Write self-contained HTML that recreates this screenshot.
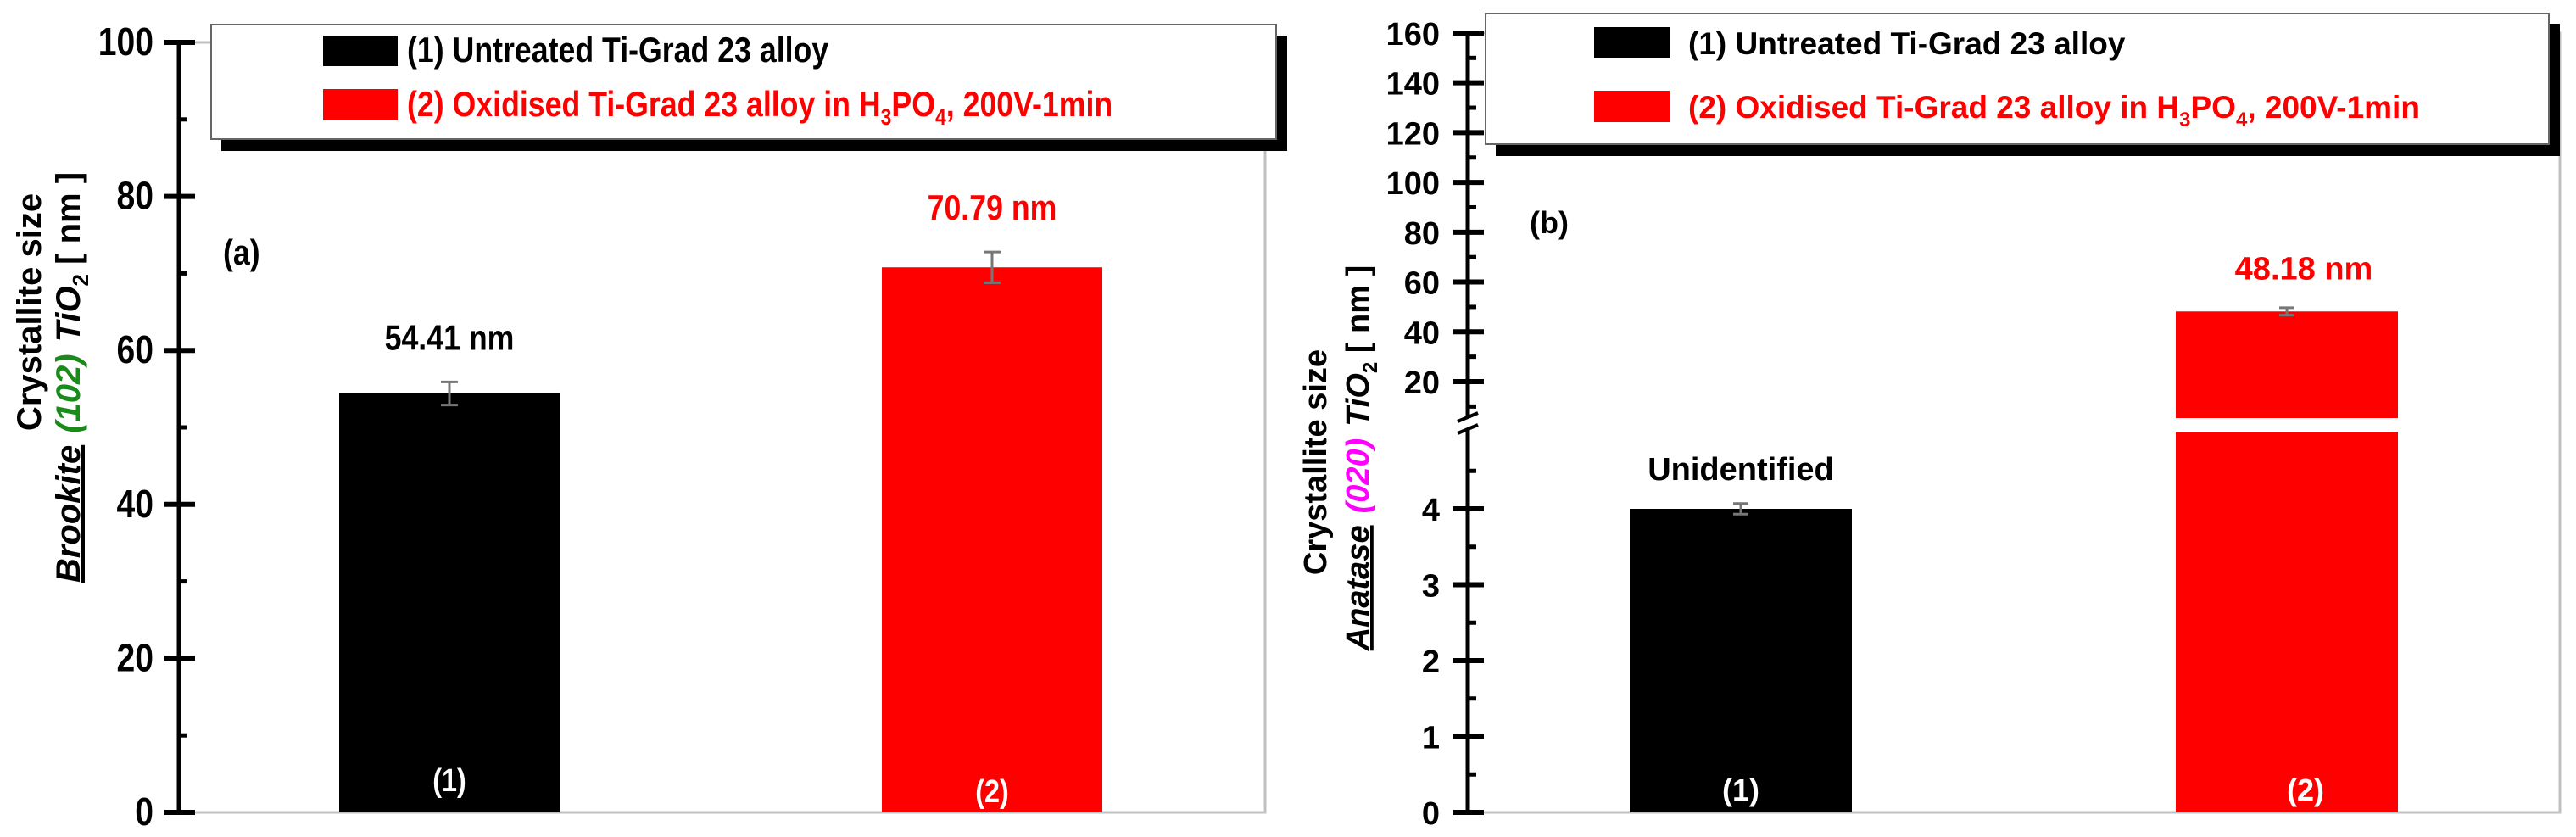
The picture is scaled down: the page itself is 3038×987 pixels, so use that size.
<!DOCTYPE html>
<html><head><meta charset="utf-8"><style>
html,body{margin:0;padding:0;background:#fff;}
svg{display:block;}
.n{font-family:"Liberation Sans Narrow","Liberation Sans",sans-serif;font-weight:bold;}
.w{font-family:"Liberation Sans",sans-serif;font-weight:bold;}
</style></head><body>
<svg id="fig" width="3038" height="987" viewBox="0 0 3038 987" xmlns="http://www.w3.org/2000/svg">
<rect x="0" y="0" width="3038" height="987" fill="#fff"/>
<g id="pa"></g>
<g id="pb"></g>
</svg>
<script>
const NS="http://www.w3.org/2000/svg";
// Panel (a) data
const catsA=["(1)","(2)"];
const valsA=[54.41,70.79];
const errA=[1.5,2.0];
const labelsA=["54.41 nm","70.79 nm"];
const ticksA=[0,20,40,60,80,100];
// Panel (b) data
const catsB=["(1)","(2)"];
const valsB=[4.0,48.18];
const errB=[0.07,1.5];
const labelsB=["Unidentified","48.18 nm"];
const ticksBLow=[0,1,2,3,4];
const ticksBHigh=[20,40,60,80,100,120,140,160];
const colors=["#000000","#ff0000"];
const SX=0.85;

function el(tag,attrs,parent,txt){const e=document.createElementNS(NS,tag);for(const k in attrs)e.setAttribute(k,attrs[k]);if(txt!==undefined)e.textContent=txt;parent.appendChild(e);return e;}
function ntext(x,y,attrs,parent,txt){const a=Object.assign({x:0,y:0,transform:`translate(${x},${y}) scale(${SX},1)`},attrs);return el('text',a,parent,txt);}

// ---------- Panel A ----------
const pa=document.getElementById('pa');
const A={x0:211,y0:958,y100:50,xr:1492};
const ya=v=>A.y0-(v/100)*(A.y0-A.y100);
const xa=i=>[530,1170][i];
const bwA=260;
let f=el('polyline',{points:`${A.x0},${A.y100} ${A.xr},${A.y100} ${A.xr},${A.y0} ${A.x0},${A.y0}`,fill:'none',stroke:'#c0c0c0','stroke-width':3},pa);

valsA.forEach((v,i)=>{
 const r=el('rect',{x:xa(i)-bwA/2,y:ya(v),width:bwA,height:A.y0-ya(v),fill:colors[i]},pa);
 
 const e=el('path',{d:`M${xa(i)},${ya(v+errA[i])}V${ya(v-errA[i])}M${xa(i)-10},${ya(v+errA[i])}h20M${xa(i)-10},${ya(v-errA[i])}h20`,stroke:'#777','stroke-width':3,fill:'none'},pa);
 
 const t=ntext(xa(i),ya(v+errA[i])-38,{'text-anchor':'middle','font-size':42,fill:colors[i],class:'n'},pa,labelsA[i]);
 
 const c=ntext(xa(i),[933,946][i],{'text-anchor':'middle','font-size':38,fill:'#fff',class:'n'},pa,catsA[i]);
 
});
let ax=el('line',{x1:A.x0,y1:A.y100-2,x2:A.x0,y2:A.y0+2,stroke:'#000','stroke-width':5},pa);

ticksA.forEach(t=>{
 const l=el('line',{x1:A.x0-17,y1:ya(t),x2:A.x0+19,y2:ya(t),stroke:'#000','stroke-width':6},pa);
 
 const tx=ntext(181,ya(t)+15,{'text-anchor':'end','font-size':46,fill:'#000',class:'n'},pa,String(t));
 
 if(t<100){const m=el('line',{x1:A.x0,y1:ya(t+10),x2:A.x0+9,y2:ya(t+10),stroke:'#000','stroke-width':5},pa);
 }
});
el('rect',{x:261,y:42,width:1257,height:136,fill:'#000'},pa);
el('rect',{x:249,y:29,width:1256,height:135,fill:'#fff',stroke:'#666','stroke-width':2},pa);
el('rect',{x:381,y:42,width:88,height:36,fill:'#000'},pa);
el('rect',{x:381,y:105,width:88,height:37,fill:'#ff0000'},pa);
let lt=ntext(480,73,{'font-size':42,fill:'#000',class:'n'},pa,"(1) Untreated Ti-Grad 23 alloy");

lt=ntext(480,137,{'font-size':42,fill:'#ff0000',class:'n'},pa);
lt.innerHTML='(2) Oxidised Ti-Grad 23 alloy in H<tspan font-size="27" dy="10">3</tspan><tspan dy="-10">PO</tspan><tspan font-size="27" dy="10">4</tspan><tspan dy="-10">, 200V-1min</tspan>';

let pl=ntext(263,312,{'font-size':42,fill:'#000',class:'n'},pa,"(a)");

let yt=el('text',{x:0,y:0,transform:'translate(48,368) rotate(-90)','text-anchor':'middle','font-size':40,fill:'#000',class:'w'},pa,"Crystallite size");

yt=el('text',{x:0,y:0,transform:'translate(94,445) rotate(-90)','text-anchor':'middle','font-size':40,fill:'#000',class:'w'},pa);
yt.innerHTML='<tspan font-style="italic" text-decoration="underline">Brookite</tspan><tspan fill="#1a8a1a" font-style="italic" dx="14">(102)</tspan><tspan font-style="italic" dx="14">TiO</tspan><tspan font-size="26" dy="10">2</tspan><tspan dy="-10"> [ nm ]</tspan>';


// ---------- Panel B ----------
const pb=document.getElementById('pb');
const B={x0:1731,y0:958,xr:3019,top:39};
const yLow=v=>B.y0-v*89.5;
const yHigh=v=>450-(v-20)*2.936;
const yb=v=>v<=5?yLow(v):yHigh(v);
const xb=i=>[2053,2697][i];
const bwB=262;
let fb=el('polyline',{points:`${B.x0},${B.top} ${B.xr},${B.top} ${B.xr},${B.y0} ${B.x0},${B.y0}`,fill:'none',stroke:'#c0c0c0','stroke-width':3},pb);

valsB.forEach((v,i)=>{
 const top=yb(v);
 const r=el('rect',{x:xb(i)-bwB/2,y:top,width:bwB,height:B.y0-top,fill:colors[i]},pb);
 
 if(v>5){const g=el('rect',{x:xb(i)-bwB/2-2,y:493,width:bwB+4,height:16,fill:'#fff'},pb);
 }
 const e=el('path',{d:`M${xb(i)},${yb(v+errB[i])}V${yb(v-errB[i])}M${xb(i)-9},${yb(v+errB[i])}h18M${xb(i)-9},${yb(v-errB[i])}h18`,stroke:'#777','stroke-width':3,fill:'none'},pb);
 
 const t=el('text',{x:xb(i)+(i?20:0),y:top-(i?38:34),'text-anchor':'middle','font-size':38,fill:colors[i],class:'w'},pb,labelsB[i]);
 
 const c=el('text',{x:xb(i)+(i?22:0),y:944,'text-anchor':'middle','font-size':36,fill:'#fff',class:'w'},pb,catsB[i]);
 
});
let axb=el('path',{d:`M${B.x0},${B.y0+2}V505M${B.x0},493V${B.top-2}`,stroke:'#000','stroke-width':5,fill:'none'},pb);

let brk=el('path',{d:`M${B.x0-12},497l24,-10M${B.x0-12},511l24,-10`,stroke:'#000','stroke-width':4},pb);

ticksBLow.forEach(t=>{
 const l=el('line',{x1:B.x0-17,y1:yLow(t),x2:B.x0+19,y2:yLow(t),stroke:'#000','stroke-width':6},pb);
 
 const tx=el('text',{x:1698,y:yLow(t)+14,'text-anchor':'end','font-size':38,fill:'#000',class:'w'},pb,String(t));
 
 const m=el('line',{x1:B.x0,y1:yLow(t+0.5),x2:B.x0+10,y2:yLow(t+0.5),stroke:'#000','stroke-width':5},pb);
 
});
ticksBHigh.forEach(t=>{
 const l=el('line',{x1:B.x0-17,y1:yHigh(t),x2:B.x0+19,y2:yHigh(t),stroke:'#000','stroke-width':6},pb);
 
 const tx=el('text',{x:1698,y:yHigh(t)+14,'text-anchor':'end','font-size':38,fill:'#000',class:'w'},pb,String(t));
 
 const m=el('line',{x1:B.x0,y1:yHigh(t-10),x2:B.x0+10,y2:yHigh(t-10),stroke:'#000','stroke-width':5},pb);
 
});
el('rect',{x:1764,y:28,width:1255,height:156,fill:'#000'},pb);
el('rect',{x:1752,y:16,width:1254,height:154,fill:'#fff',stroke:'#666','stroke-width':2},pb);
el('rect',{x:1880,y:32,width:89,height:36,fill:'#000'},pb);
el('rect',{x:1880,y:107,width:89,height:37,fill:'#ff0000'},pb);
lt=el('text',{x:1991,y:64,'font-size':37,fill:'#000',class:'w'},pb,"(1) Untreated Ti-Grad 23 alloy");

lt=el('text',{x:1991,y:139,'font-size':37,fill:'#ff0000',class:'w'},pb);
lt.innerHTML='(2) Oxidised Ti-Grad 23 alloy in H<tspan font-size="24" dy="10">3</tspan><tspan dy="-10">PO</tspan><tspan font-size="24" dy="10">4</tspan><tspan dy="-10">, 200V-1min</tspan>';

pl=el('text',{x:1804,y:275,'font-size':36,fill:'#000',class:'w'},pb,"(b)");

yt=el('text',{x:0,y:0,transform:'translate(1564,545) rotate(-90)','text-anchor':'middle','font-size':38,fill:'#000',class:'w'},pb,"Crystallite size");

yt=el('text',{x:0,y:0,transform:'translate(1614,540) rotate(-90)','text-anchor':'middle','font-size':38,fill:'#000',class:'w'},pb);
yt.innerHTML='<tspan font-style="italic" text-decoration="underline">Anatase</tspan><tspan fill="#ff00ff" font-style="italic" dx="14">(020)</tspan><tspan font-style="italic" dx="14">TiO</tspan><tspan font-size="24" dy="10">2</tspan><tspan dy="-10"> [ nm ]</tspan>';

</script>
</body></html>
